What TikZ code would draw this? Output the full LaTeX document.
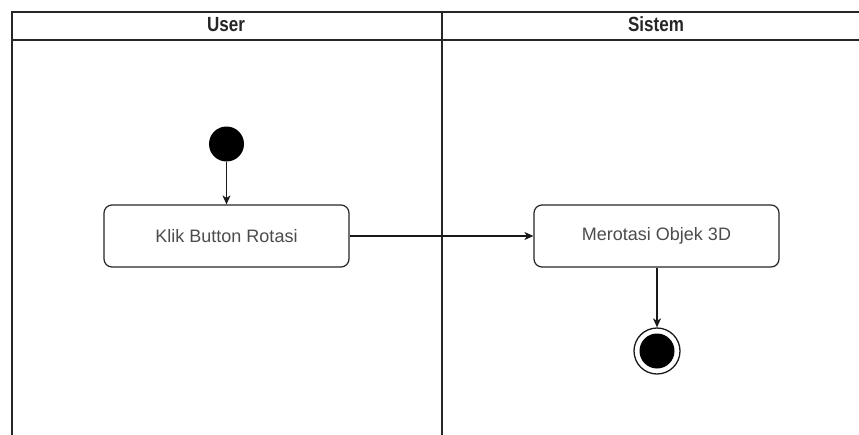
\documentclass[tikz,border=0pt]{standalone}
\usepackage{fontspec}
\setmainfont{Liberation Sans}
\usetikzlibrary{arrows.meta}
\newcommand{\narrowhead}[1]{\scalebox{0.83}[1]{#1}}
\begin{document}
\begin{tikzpicture}[x=1pt,y=-1pt,
  lane/.style={line width=1.3pt,draw=black!85},
  action/.style={draw=black!85,line width=1.2pt,rounded corners=8pt,
    minimum width=245pt,minimum height=62pt,inner sep=0pt,
    font=\fontsize{18}{21}\selectfont,text=black!70},
  lanehead/.style={font=\bfseries\fontsize{20.5}{24}\selectfont,text=black!85,
    anchor=base,inner sep=0pt},
  initial/.style={circle,fill=black,minimum size=35pt,inner sep=0pt},
  flow/.style={draw=black!90,line width=1.2pt,-{Stealth[length=9pt,width=8pt,inset=2.5pt]}}]
\useasboundingbox (0,0) rectangle (859,434);
\fill[white] (0,0) rectangle (859,434);
\begin{scope}
\clip (0,0) rectangle (859,434);
% swimlane frame
\draw[lane] (12,440) -- (12,12) -- (870,12);
\draw[lane] (12,40) -- (870,40);
\draw[lane] (442,12) -- (442,440);
\end{scope}
% lane titles
\node[lanehead] (userhead) at (226,31) {\narrowhead{User}};
\node[lanehead] (sistemhead) at (656,31) {\narrowhead{Sistem}};
% activity nodes
\node[initial] (start) at (226.5,144) {};
\node[action] (klik) at (226.5,236) {Klik Button Rotasi};
\node[action] (rotasi) at (656.5,236) {Merotasi Objek 3D};
\node[circle,draw=black!90,line width=1.3pt,minimum size=46pt,inner sep=0pt] (final) at (657,351) {};
\node[circle,fill=black,minimum size=35pt,inner sep=0pt] (finaldot) at (final.center) {};
% transitions
\draw[flow] (start) -- (klik);
\draw[flow] (klik) -- (rotasi);
\draw[flow] (rotasi.south -| final) -- (final);
\end{tikzpicture}
\end{document}
